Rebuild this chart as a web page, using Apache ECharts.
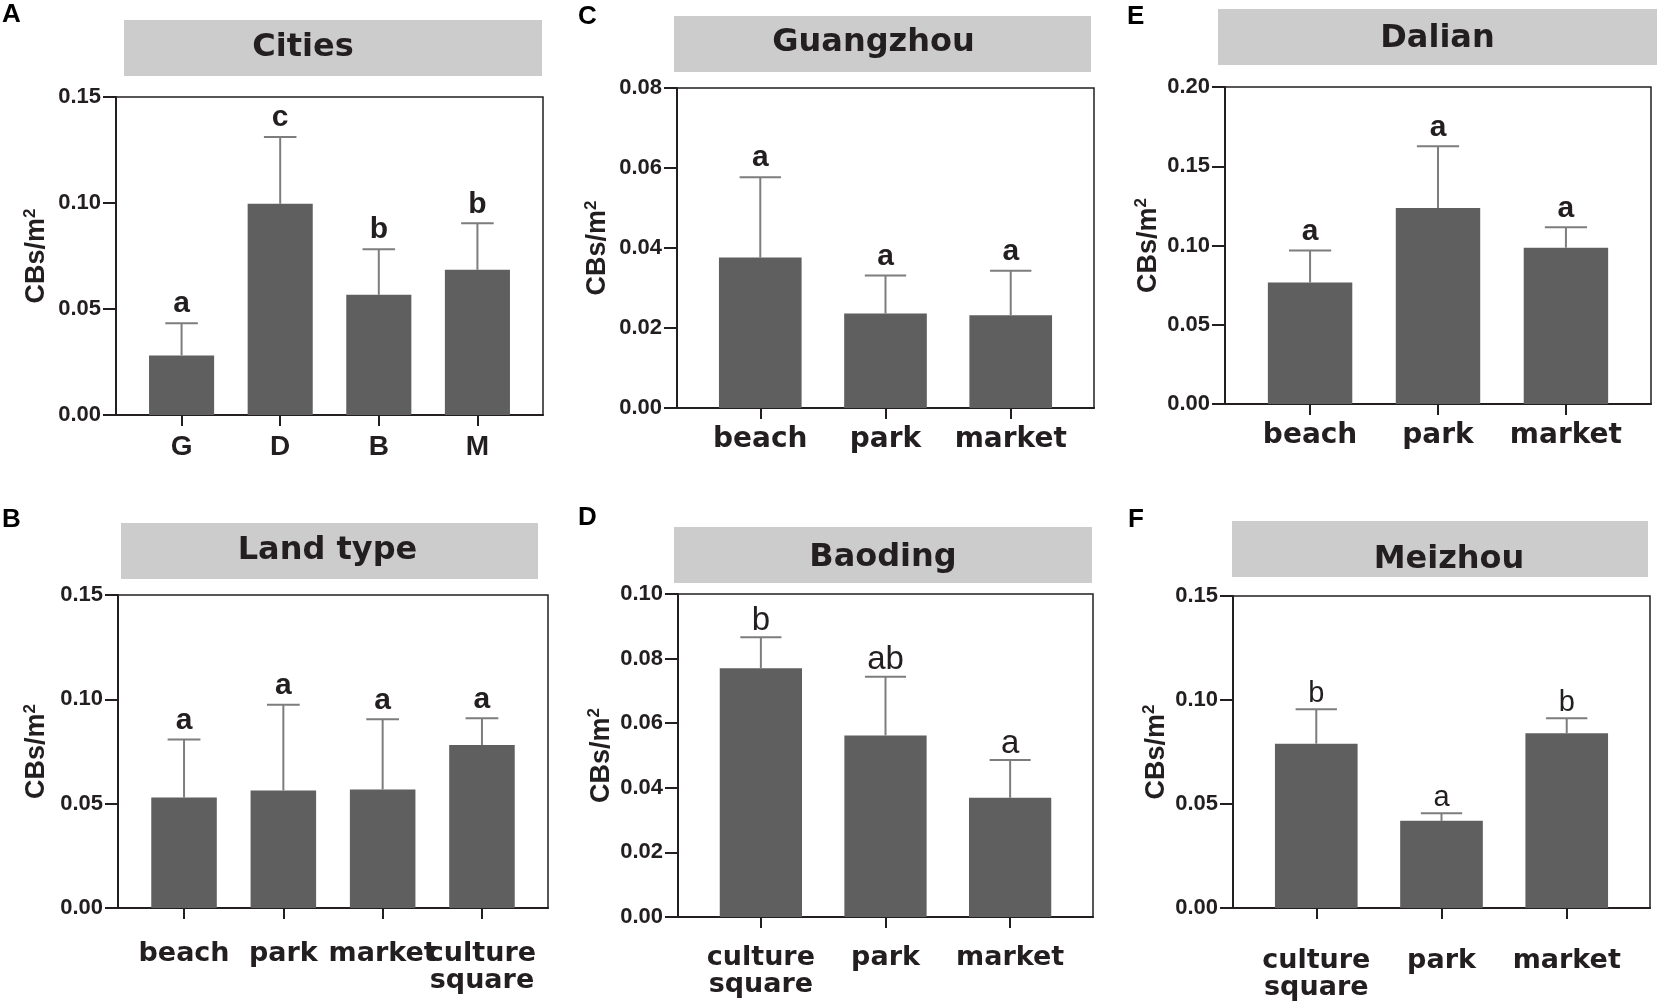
<!doctype html>
<html>
<head>
<meta charset="UTF-8">
<title>CBs/m2 by city and land type</title>
<script src="https://cdn.jsdelivr.net/npm/echarts@6/dist/echarts.min.js"></script>
<style>
  html, body { margin: 0; padding: 0; background: #fff; }
  #main { width: 1665px; height: 1005px; }
</style>
</head>
<body>
<div id="main"></div>
<script>
// ---- data (mean and top of error bar) ----
// A  Cities
var citiesCats  = ['G', 'D', 'B', 'M'];
var citiesMean  = [0.0281, 0.0996, 0.0567, 0.0685];
var citiesUpper = [0.0433, 0.1311, 0.0782, 0.0904];
var citiesSig   = ['a', 'c', 'b', 'b'];
// B  Land type
var landCats  = ['beach', 'park', 'market', 'culture\nsquare'];
var landMean  = [0.0529, 0.0563, 0.0568, 0.0781];
var landUpper = [0.0808, 0.0974, 0.0904, 0.0909];
var landSig   = ['a', 'a', 'a', 'a'];
// C  Guangzhou
var gzCats  = ['beach', 'park', 'market'];
var gzMean  = [0.0376, 0.0236, 0.0232];
var gzUpper = [0.0577, 0.0331, 0.0343];
var gzSig   = ['a', 'a', 'a'];
// D  Baoding
var bdCats  = ['culture\nsquare', 'park', 'market'];
var bdMean  = [0.0770, 0.0562, 0.0369];
var bdUpper = [0.0866, 0.0744, 0.0486];
var bdSig   = ['b', 'ab', 'a'];
// E  Dalian
var dlCats  = ['beach', 'park', 'market'];
var dlMean  = [0.0766, 0.1237, 0.0986];
var dlUpper = [0.0969, 0.1626, 0.1115];
var dlSig   = ['a', 'a', 'a'];
// F  Meizhou
var mzCats  = ['culture\nsquare', 'park', 'market'];
var mzMean  = [0.0790, 0.0419, 0.0840];
var mzUpper = [0.0956, 0.0456, 0.0912];
var mzSig   = ['b', 'a', 'b'];
// y axis ranges
var yMaxA = 0.15, yStepA = 0.05;
var yMaxB = 0.15, yStepB = 0.05;
var yMaxC = 0.08, yStepC = 0.02;
var yMaxD = 0.10, yStepD = 0.02;
var yMaxE = 0.20, yStepE = 0.05;
var yMaxF = 0.15, yStepF = 0.05;

var INK = '#231f20';
var BAR = '#5f5f5f';
var WHISKER = '#7d7d7d';
var HEAD = '#cccccc';
var ARIAL = '"Liberation Sans", Arial, sans-serif';
var WIDE = '"DejaVu Sans", "Liberation Sans", sans-serif';
var EDGE = 0.665;   // distance of first/last bar centre from frame, in category steps

// layout: box = plot frame [left, top, width, height], head = grey title box, titleShift = [dx, dy] of title text
var panels = [
  { tag: 'A', title: 'Cities', cats: citiesCats, mean: citiesMean, upper: citiesUpper, sig: citiesSig,
    max: yMaxA, step: yStepA, box: [116, 97, 427, 318], head: [124, 20, 418, 56], titleShift: [-30, 0],
    tagPos: [2, 2], nameGap: 64, catFamily: ARIAL, catSize: 28, margin: 19,
    sigWeight: 'bold', sigSize: 30, sigGap: 4 },
  { tag: 'B', title: 'Land type', cats: landCats, mean: landMean, upper: landUpper, sig: landSig,
    max: yMaxB, step: yStepB, box: [118, 595, 430, 313], head: [121, 523, 417, 56], titleShift: [-2, 0],
    tagPos: [2, 507], nameGap: 66, catFamily: WIDE, catSize: 27, margin: 32,
    sigWeight: 'bold', sigSize: 30, sigGap: 4 },
  { tag: 'C', title: 'Guangzhou', cats: gzCats, mean: gzMean, upper: gzUpper, sig: gzSig,
    max: yMaxC, step: yStepC, box: [677, 88, 417, 320], head: [674, 16, 417, 56], titleShift: [-9, -1],
    tagPos: [578, 4], nameGap: 64, catFamily: WIDE, catSize: 28, margin: 18,
    sigWeight: 'bold', sigSize: 30, sigGap: 4 },
  { tag: 'D', title: 'Baoding', cats: bdCats, mean: bdMean, upper: bdUpper, sig: bdSig,
    max: yMaxD, step: yStepD, box: [678, 594, 415, 323], head: [674, 527, 418, 56], titleShift: [0, 3],
    tagPos: [578, 505], nameGap: 61, catFamily: WIDE, catSize: 27, margin: 27,
    sigWeight: 'normal', sigSize: 33, sigGap: 0 },
  { tag: 'E', title: 'Dalian', cats: dlCats, mean: dlMean, upper: dlUpper, sig: dlSig,
    max: yMaxE, step: yStepE, box: [1225, 87, 426, 317], head: [1218, 9, 439, 56], titleShift: [0, 2],
    tagPos: [1127, 4], nameGap: 59, catFamily: WIDE, catSize: 28, margin: 18,
    sigWeight: 'bold', sigSize: 30, sigGap: 4 },
  { tag: 'F', title: 'Meizhou', cats: mzCats, mean: mzMean, upper: mzUpper, sig: mzSig,
    max: yMaxF, step: yStepF, box: [1233, 596, 417, 312], head: [1232, 521, 416, 56], titleShift: [9, 11],
    tagPos: [1128, 507], nameGap: 55, catFamily: WIDE, catSize: 27, margin: 39,
    sigWeight: 'normal', sigSize: 29, sigGap: 1 }
];

var grids = [], xAxes = [], yAxes = [], series = [], shapes = [];

panels.forEach(function (p) {
  var n = p.cats.length;
  var step = p.box[2] / (n - 1 + 2 * EDGE);
  var inset = (EDGE - 0.5) * step;
  var fg = grids.length, dg = grids.length + 1;

  // frame grid: box, y axis and bottom line
  grids.push({ left: p.box[0], top: p.box[1], width: p.box[2], height: p.box[3],
    show: true, borderColor: INK, borderWidth: 1.5, backgroundColor: 'transparent' });
  // data grid: a little narrower so bars sit like in the figure
  grids.push({ left: p.box[0] + inset, top: p.box[1], width: n * step, height: p.box[3] });

  xAxes.push({ gridIndex: fg, type: 'value', min: 0, max: 1,
    axisLine: { show: true, lineStyle: { color: INK, width: 2 } },
    axisTick: { show: false }, axisLabel: { show: false }, splitLine: { show: false } });
  yAxes.push({ gridIndex: fg, type: 'value', min: 0, max: p.max, interval: p.step,
    axisLine: { show: true, lineStyle: { color: INK, width: 2 } },
    axisTick: { show: true, length: 13, lineStyle: { color: INK, width: 2 } },
    axisLabel: { margin: 15, color: INK, fontFamily: ARIAL, fontWeight: 'bold', fontSize: 22,
      formatter: function (v) { return v.toFixed(2); } },
    splitLine: { show: false },
    name: 'CBs/m{sup|2}', nameLocation: 'middle', nameGap: p.nameGap,
    nameTextStyle: { color: INK, fontFamily: ARIAL, fontWeight: 'bold', fontSize: 27, lineHeight: 30,
      rich: { sup: { fontFamily: ARIAL, fontWeight: 'bold', fontSize: 17, lineHeight: 17,
        verticalAlign: 'top', color: INK } } } });

  var xi = xAxes.length, yi = yAxes.length;
  xAxes.push({ gridIndex: dg, type: 'category', data: p.cats,
    axisLine: { show: false },
    axisTick: { show: true, alignWithLabel: true, interval: 0, length: 11, lineStyle: { color: INK, width: 2 } },
    axisLabel: { interval: 0, margin: p.margin, color: INK, fontFamily: p.catFamily,
      fontWeight: 'bold', fontSize: p.catSize, lineHeight: 27 } });
  yAxes.push({ gridIndex: dg, type: 'value', min: 0, max: p.max, show: false });

  series.push({ type: 'bar', xAxisIndex: xi, yAxisIndex: yi, data: p.mean,
    barWidth: '66%', itemStyle: { color: BAR }, silent: true, animation: false });

  var sig = p.sig;
  series.push({ type: 'custom', xAxisIndex: xi, yAxisIndex: yi, silent: true, animation: false, z: 3,
    data: p.mean.map(function (m, i) { return [i, m, p.upper[i]]; }),
    renderItem: function (params, api) {
      var i = api.value(0);
      var base = api.coord([i, api.value(1)]);
      var top = api.coord([i, api.value(2)]);
      var half = api.size([1, 0])[0] * 0.66 * 0.25;
      return { type: 'group', children: [
        { type: 'line', shape: { x1: base[0], y1: base[1], x2: top[0], y2: top[1] },
          style: { stroke: WHISKER, lineWidth: 2 } },
        { type: 'line', shape: { x1: top[0] - half, y1: top[1], x2: top[0] + half, y2: top[1] },
          style: { stroke: WHISKER, lineWidth: 2 } },
        { type: 'text', x: top[0], y: top[1] - p.sigGap,
          style: { text: sig[params.dataIndex], align: 'center', verticalAlign: 'bottom',
            fontFamily: ARIAL, fontWeight: p.sigWeight, fontSize: p.sigSize, fill: INK } }
      ] };
    } });

  // grey header with panel title, and the panel letter
  shapes.push({ type: 'rect', silent: true,
    shape: { x: p.head[0], y: p.head[1], width: p.head[2], height: p.head[3] },
    style: { fill: HEAD } });
  shapes.push({ type: 'text', silent: true,
    x: p.head[0] + p.head[2] / 2 + p.titleShift[0], y: p.head[1] + p.head[3] / 2 + p.titleShift[1],
    style: { text: p.title, align: 'center', verticalAlign: 'middle', fill: INK,
      fontFamily: WIDE, fontWeight: 'bold', fontSize: 32 } });
  shapes.push({ type: 'text', silent: true, x: p.tagPos[0], y: p.tagPos[1],
    style: { text: p.tag, align: 'left', verticalAlign: 'top', fill: '#000',
      fontFamily: ARIAL, fontWeight: 'bold', fontSize: 26 } });
});

var myChart = echarts.init(document.getElementById('main'));
myChart.setOption({
  animation: false,
  backgroundColor: '#fff',
  grid: grids,
  xAxis: xAxes,
  yAxis: yAxes,
  series: series,
  graphic: { elements: shapes }
});
</script>
</body>
</html>
